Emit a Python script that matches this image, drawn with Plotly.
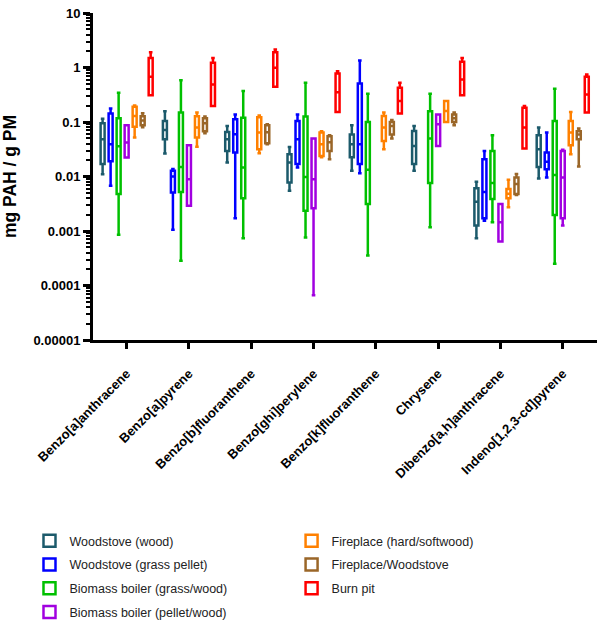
import plotly.graph_objects as go

COMPOUNDS = ["Benzo[a]anthracene", "Benzo[a]pyrene", "Benzo[b]fluoranthene",
             "Benzo[ghi]perylene", "Benzo[k]fluoranthene", "Chrysene",
             "Dibenzo[a,h]anthracene", "Indeno[1,2,3-cd]pyrene"]

Y_TICK_VALS = [1e-5, 1e-4, 1e-3, 1e-2, 1e-1, 1, 10]
Y_TICK_TEXT = ["0.00001", "0.0001", "0.001", "0.01", "0.1", "1", "10"]

# (lower whisker, Q1, median, Q3, upper whisker) per compound; None = not reported
WOODSTOVE_WOOD = [
    (0.011, 0.0169, 0.048, 0.095, 0.115),
    (0.0264, 0.0483, 0.0714, 0.104, 0.157),
    (0.0181, 0.0295, 0.0483, 0.0656, 0.0845),
    (0.00548, 0.0078, 0.0181, 0.0257, 0.0349),
    (0.0127, 0.0226, 0.039, 0.0592, 0.0876),
    (0.0127, 0.0169, 0.0364, 0.0684, 0.0845),
    (0.000738, 0.00126, 0.00345, 0.00606, 0.0080),
    (0.0092, 0.0149, 0.0317, 0.0571, 0.079),
]
WOODSTOVE_GRASS = [
    (0.0068, 0.019, 0.039, 0.143, 0.176),
    (0.00105, 0.0051, 0.0100, 0.0127, 0.0137),
    (0.00171, 0.0276, 0.0595, 0.112, 0.138),
    (0.0147, 0.0169, 0.0483, 0.104, 0.138),
    (0.01153, 0.0169, 0.039, 0.509, 1.34),
    None,
    (0.00155, 0.00171, 0.0052, 0.0208, 0.0295),
    (0.00963, 0.0136, 0.0186, 0.0276, 0.064),
]
BIOMASS_GRASS = [
    (0.00085, 0.00476, 0.036, 0.117, 0.344),
    (0.000284, 0.0052, 0.0149, 0.149, 0.586),
    (0.000738, 0.0040, 0.0147, 0.120, 0.369),
    (0.000757, 0.00236, 0.0098, 0.126, 0.525),
    (0.000355, 0.00313, 0.01325, 0.100, 0.330),
    (0.00117, 0.00757, 0.0498, 0.157, 0.330),
    (0.00145, 0.00386, 0.00757, 0.0295, 0.0571),
    (0.000251, 0.00197, 0.0106, 0.104, 0.408),
]
BIOMASS_PELLET = [
    (0.0223, 0.0223, 0.042, 0.087, 0.087),
    (0.00291, 0.00291, 0.00895, 0.0375, 0.0375),
    None,
    (0.0000659, 0.00261, 0.00895, 0.0498, 0.0498),
    None,
    (0.0364, 0.0364, 0.0908, 0.138, 0.138),
    (0.00064, 0.00064, 0.00145, 0.00313, 0.00313),
    (0.00126, 0.00171, 0.00963, 0.0295, 0.0308),
]
FIREPLACE_HARDSOFT = [
    (0.052, 0.082, 0.129, 0.19, 0.20),
    (0.035, 0.052, 0.079, 0.127, 0.149),
    (0.0268, 0.0317, 0.064, 0.122, 0.132),
    (0.0226, 0.0239, 0.039, 0.064, 0.0675),
    (0.0317, 0.045, 0.079, 0.129, 0.149),
    (0.1, 0.1, 0.159, 0.242, 0.242),
    (0.00272, 0.00398, 0.00483, 0.00589, 0.0087),
    (0.0257, 0.0375, 0.064, 0.104, 0.152),
]
FIREPLACE_WOODSTOVE = [
    (0.080, 0.087, 0.107, 0.127, 0.144),
    (0.062, 0.068, 0.095, 0.117, 0.126),
    (0.0391, 0.0408, 0.0649, 0.087, 0.0908),
    (0.0208, 0.0295, 0.0426, 0.0548, 0.0571),
    (0.0498, 0.0592, 0.0845, 0.1, 0.109),
    (0.087, 0.1, 0.117, 0.138, 0.149),
    (0.00457, 0.00476, 0.00726, 0.00963, 0.0111),
    (0.0153, 0.048, 0.059, 0.068, 0.076),
]
BURN_PIT = [
    (0.308, 0.308, 0.676, 1.50, 1.90),
    (0.196, 0.196, 0.489, 1.22, 1.50),
    (0.444, 0.444, 0.987, 1.90, 2.13),
    (0.152, 0.152, 0.353, 0.776, 0.855),
    (0.143, 0.143, 0.242, 0.426, 0.525),
    (0.308, 0.308, 0.603, 1.27, 1.50),
    (0.0327, 0.0327, 0.079, 0.183, 0.196),
    (0.149, 0.149, 0.321, 0.676, 0.745),
]

SERIES_NAMES = ["Woodstove (wood)", "Woodstove (grass pellet)", "Biomass boiler (grass/wood)",
                "Biomass boiler (pellet/wood)", "Fireplace (hard/softwood)",
                "Fireplace/Woodstove", "Burn pit"]
SERIES_DATA = [WOODSTOVE_WOOD, WOODSTOVE_GRASS, BIOMASS_GRASS, BIOMASS_PELLET,
               FIREPLACE_HARDSOFT, FIREPLACE_WOODSTOVE, BURN_PIT]
SERIES_COLORS = ["#1C5A6B", "#0000FF", "#00C000", "#A100E0", "#FF8000", "#9A6628", "#FF0000"]
SERIES_LEGEND = ["legend", "legend", "legend", "legend", "legend2", "legend2", "legend2"]

FONT = "Liberation Sans, Arial, sans-serif"

fig = go.Figure()
for name, data, color, leg in zip(SERIES_NAMES, SERIES_DATA, SERIES_COLORS, SERIES_LEGEND):
    xs = [c for c, s in zip(COMPOUNDS, data) if s is not None]
    st = [s for s in data if s is not None]
    fig.add_trace(go.Box(
        x=xs,
        lowerfence=[s[0] for s in st],
        q1=[s[1] for s in st],
        median=[s[2] for s in st],
        q3=[s[3] for s in st],
        upperfence=[s[4] for s in st],
        name=name,
        legend=leg,
        legendgroup=name,
        marker=dict(color=color),
        line=dict(color=color, width=2.5),
        fillcolor="white",
        whiskerwidth=0.9,
        boxpoints=False,
        hoverinfo="skip",
    ))

fig.update_layout(
    width=598, height=621,
    margin=dict(l=93, r=1, t=13, b=281, autoexpand=False),
    paper_bgcolor="white", plot_bgcolor="white",
    boxmode="group", boxgap=0.1, boxgroupgap=0.5,
    font=dict(family=FONT, color="black"),
    showlegend=True,
    legend=dict(x=-0.126, y=-0.569, xanchor="left", yanchor="top",
                font=dict(family=FONT, size=12.5, color="#222"),
                tracegroupgap=4.5, bgcolor="rgba(0,0,0,0)"),
    legend2=dict(x=0.394, y=-0.569, xanchor="left", yanchor="top",
                 font=dict(family=FONT, size=12.5, color="#222"),
                 tracegroupgap=4.5, bgcolor="rgba(0,0,0,0)"),
    xaxis=dict(
        type="category", categoryorder="array", categoryarray=COMPOUNDS,
        range=[-0.54, 7.55], automargin=False,
        showline=True, linecolor="black", linewidth=3,
        ticks="outside", ticklen=6, tickwidth=3, tickcolor="black",
        tickangle=-45, ticklabelstandoff=12,
        tickfont=dict(family=FONT, size=13, color="black", weight="bold"),
        showgrid=False, zeroline=False,
    ),
    yaxis=dict(
        type="log", range=[-5, 1], automargin=False,
        tickmode="array", tickvals=Y_TICK_VALS, ticktext=Y_TICK_TEXT,
        showline=True, linecolor="black", linewidth=3,
        ticks="outside", ticklen=7, tickwidth=3, tickcolor="black",
        tickfont=dict(family=FONT, size=13, color="black", weight="bold"),
        minor=dict(ticks="outside", ticklen=4, tickwidth=1.5, tickcolor="black",
                   dtick="D1", showgrid=False),
        showgrid=False, zeroline=False,
        title=dict(text="mg PAH / g PM", standoff=18,
                   font=dict(family=FONT, size=17.5, color="black", weight="bold")),
    ),
)

fig.write_html("out.html", config={"displayModeBar": False},
               post_script="document.body.style.margin='0px';")
